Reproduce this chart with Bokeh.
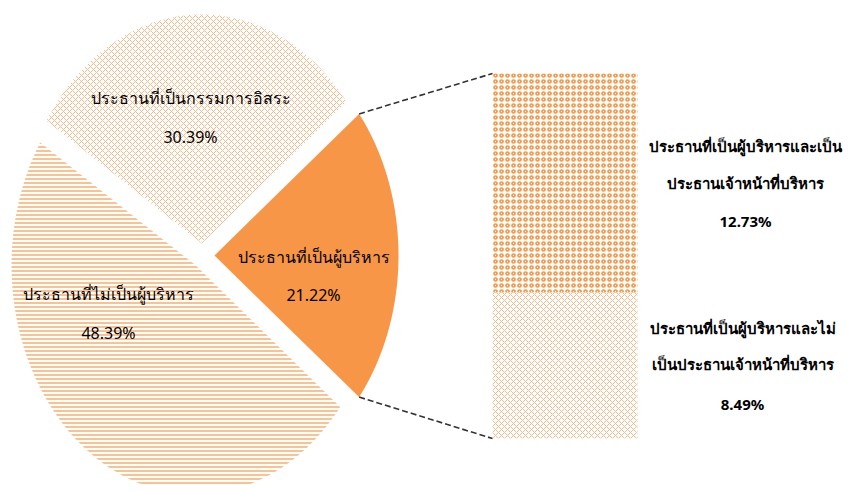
import numpy as np
from bokeh.plotting import figure
from bokeh.models import Range1d
from bokeh.core.properties import value
from bokeh.embed import file_html
from bokeh.resources import INLINE

# ---- data ----
pie_labels = ["ประธานที่เป็นผู้บริหาร", "ประธานที่เป็นกรรมการอิสระ", "ประธานที่ไม่เป็นผู้บริหาร"]
pie_values = [21.22, 30.39, 48.39]
bar_labels = [["ประธานที่เป็นผู้บริหารและไม่", "เป็นประธานเจ้าหน้าที่บริหาร"],
              ["ประธานที่เป็นผู้บริหารและเป็น", "ประธานเจ้าหน้าที่บริหาร"]]
bar_values = [8.49, 12.73]

# ---- layout / style ----
W, H = 846, 484
ORANGE = "#F79646"
LIGHT = "#F9B98A"
FONT = "Noto Sans"

p = figure(width=W, height=H, output_backend="svg", toolbar_location=None,
           x_range=Range1d(0, W), y_range=Range1d(492 - H, 492), min_border=0)
p.axis.visible = False
p.grid.visible = False
p.outline_line_color = None
p.background_fill_color = "white"

cx, cy = 202, 492 - 255
rx, ry = 184, 229
explode = 12
total = sum(pie_values)
spans = [v / total * 2 * np.pi for v in pie_values]
styles = [
    dict(fill_color=ORANGE),
    dict(fill_color="white", hatch_pattern="diagonal_cross", hatch_color=LIGHT, hatch_scale=6, hatch_weight=1),
    dict(fill_color="white", hatch_pattern="horizontal_line", hatch_color=ORANGE, hatch_scale=4, hatch_weight=1.2),
]
start = -spans[0] / 2
vertices = []
for i, span in enumerate(spans):
    t0, t1 = start, start + span
    tm = (t0 + t1) / 2
    ox, oy = cx + explode * np.cos(tm), cy + explode * np.sin(tm)
    ts = np.linspace(t0, t1, 240)
    xs = [ox] + list(ox + rx * np.cos(ts))
    ys = [oy] + list(oy + ry * np.sin(ts))
    p.patch(xs, ys, line_color=None, **styles[i])
    vertices.append((ox, oy, t0, t1))
    start = t1

# ---- bar of pie ----
bar_bottom, bar_top = 492 - 438, 492 - 73
px_per = (bar_top - bar_bottom) / sum(bar_values)
p.extra_y_ranges = {"bar": Range1d((492 - H - bar_bottom) / px_per, (492 - bar_bottom) / px_per)}
bar_x0, bar_x1 = 492, 637
bottoms = np.cumsum([0] + bar_values[:-1])
tops = np.cumsum(bar_values)
bar_styles = [
    dict(hatch_pattern="diagonal_cross", hatch_color=LIGHT, hatch_scale=6, hatch_weight=1),
    dict(hatch_pattern="ring", hatch_color=ORANGE, hatch_scale=6, hatch_weight=1.7),
]
for b, t, st in zip(bottoms, tops, bar_styles):
    p.quad(left=bar_x0, right=bar_x1, bottom=b, top=t, y_range_name="bar",
           fill_color="white", line_color=None, **st)

# connector lines
ox, oy, t0, t1 = vertices[0]
top_pt = (ox + rx * np.cos(t1), oy + ry * np.sin(t1))
bot_pt = (ox + rx * np.cos(t0), oy + ry * np.sin(t0))
p.line([top_pt[0], bar_x0], [top_pt[1], bar_top], line_color="#333333", line_width=1.6, line_dash="6 3")
p.line([bot_pt[0], bar_x0], [bot_pt[1], bar_bottom], line_color="#333333", line_width=1.6, line_dash="6 3")

# ---- labels ----
pie_pos = [(313, 256, 294), (190, 97, 136), (108, 293, 332)]
tx, ty, tt = [], [], []
for lab, v, (x, y1, y2) in zip(pie_labels, pie_values, pie_pos):
    tx += [x, x]
    ty += [492 - y1, 492 - y2]
    tt += [lab, f"{v:.2f}%"]
p.text(x=tx, y=ty, text=tt, text_align="center", text_baseline="middle",
       text_font=value(FONT), text_font_size="16px", text_color="black")

bar_pos = [(742, [327, 363, 403]), (745, [145, 182, 220])]
bx, by, bt = [], [], []
for lines, v, (x, ys) in zip(bar_labels, bar_values, bar_pos):
    for s, y in zip(lines + [f"{v:.2f}%"], ys):
        bx.append(x)
        by.append(492 - y)
        bt.append(s)
p.text(x=bx, y=by, text=bt, text_align="center", text_baseline="middle",
       text_font=value(FONT), text_font_size="15px", text_font_style="bold", text_color="black")

open("out.html", "w").write(file_html(p, INLINE))
